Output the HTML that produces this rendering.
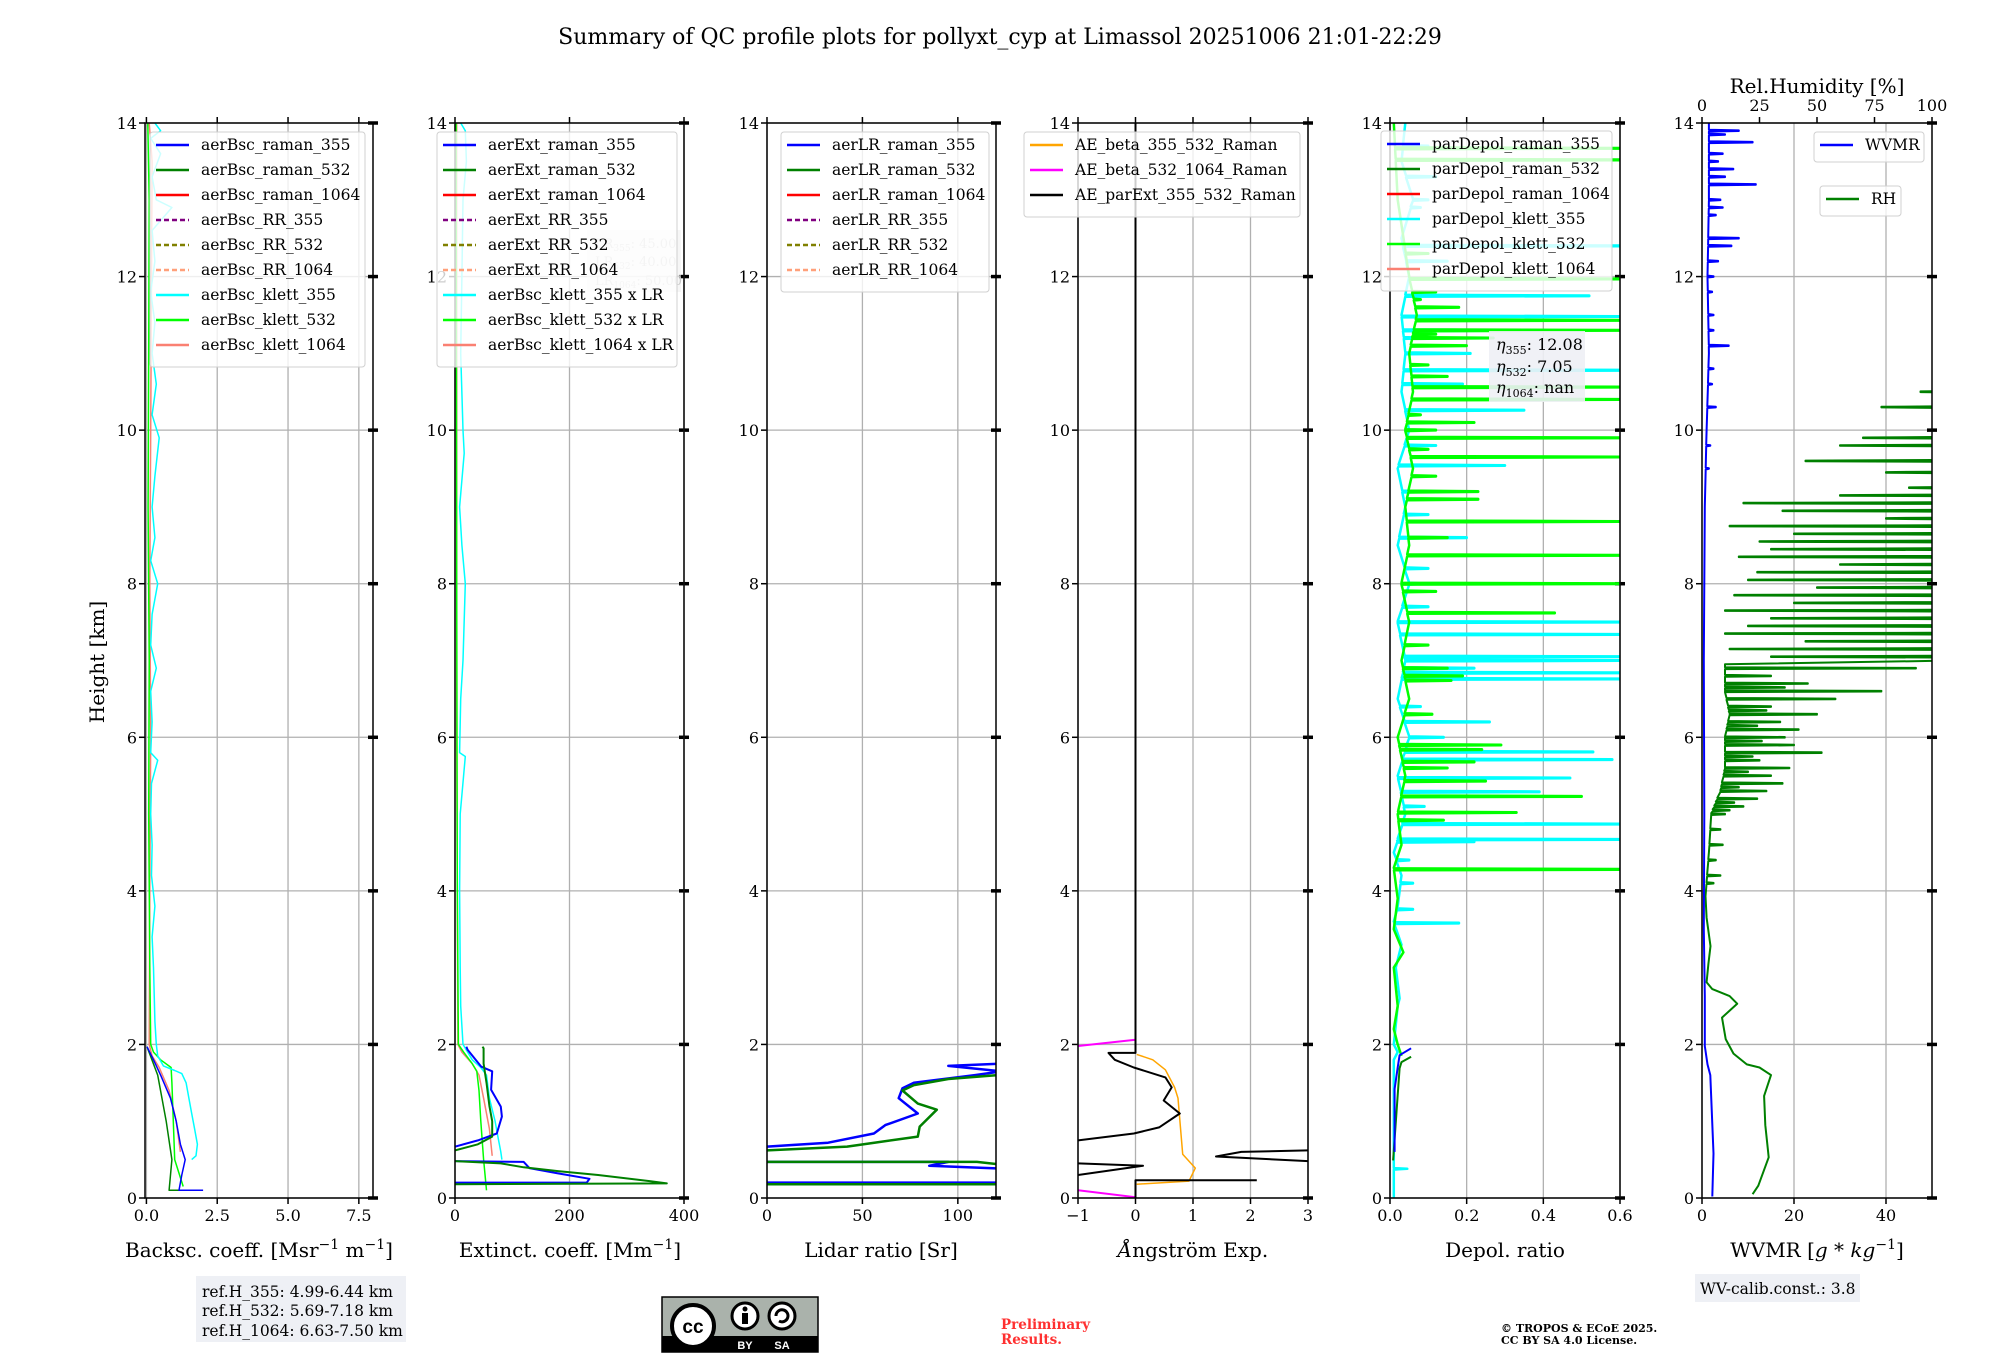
<!DOCTYPE html>
<html><head><meta charset="utf-8">
<style>
html,body{margin:0;padding:0;background:#fff;}
svg{display:block;font-family:"DejaVu Serif","Liberation Serif",serif;}
</style></head>
<body>
<svg id="fig" width="2000" height="1360" viewBox="0 0 2000 1360" xmlns="http://www.w3.org/2000/svg">
<rect x="0" y="0" width="2000" height="1360" fill="#fff"/>
<text x="1000" y="44" font-size="22" text-anchor="middle">Summary of QC profile plots for pollyxt_cyp at Limassol 20251006 21:01-22:29</text>
<text transform="translate(104,662) rotate(-90)" font-size="20" text-anchor="middle">Height [km]</text>
<g id="layer"></g>
<rect x="196" y="1276" width="210" height="66" fill="#eef0f5"/>
<text font-size="15.5" x="202">
<tspan x="202" y="1297">ref.H_355: 4.99-6.44 km</tspan>
<tspan x="202" y="1316">ref.H_532: 5.69-7.18 km</tspan>
<tspan x="202" y="1336">ref.H_1064: 6.63-7.50 km</tspan></text>
<g>
<rect x="662" y="1297" width="156" height="55" fill="#aab2ab" stroke="#000" stroke-width="1.5"/>
<rect x="662" y="1336" width="156" height="16" fill="#000"/>
<circle cx="693" cy="1326" r="21" fill="#fff" stroke="#000" stroke-width="4"/>
<text x="693" y="1333" font-size="19" font-weight="bold" text-anchor="middle" font-family="Liberation Sans, sans-serif">cc</text>
<circle cx="745" cy="1316" r="13" fill="#fff" stroke="#000" stroke-width="3"/>
<circle cx="745" cy="1309" r="2.5" fill="#000"/><rect x="742" y="1313" width="6" height="11" fill="#000"/>
<circle cx="782" cy="1316" r="13" fill="#fff" stroke="#000" stroke-width="3"/>
<path d="M776 1316 a6 6 0 1 1 3 5" fill="none" stroke="#000" stroke-width="3"/>
<text x="745" y="1349" font-size="11" fill="#fff" text-anchor="middle" font-family="Liberation Sans, sans-serif" font-weight="bold">BY</text>
<text x="782" y="1349" font-size="11" fill="#fff" text-anchor="middle" font-family="Liberation Sans, sans-serif" font-weight="bold">SA</text>
</g>
<text font-size="13.5" font-weight="bold" fill="#ff3030"><tspan x="1001" y="1329">Preliminary</tspan><tspan x="1001" y="1344">Results.</tspan></text>
<text font-size="11" font-weight="bold"><tspan x="1501" y="1332">© TROPOS &amp; ECoE 2025.</tspan><tspan x="1501" y="1344">CC BY SA 4.0 License.</tspan></text>
<rect x="1695" y="1274" width="165" height="28" fill="#eef0f5"/>
<text x="1700" y="1294" font-size="15.5">WV-calib.const.: 3.8</text>
</svg>
<script>
// ---------- data (height km, value) ----------
const bscRaman355=[[0.1,2.0],[0.1,1.15],[0.3,1.25],[0.5,1.37],[0.7,1.2],[1.0,1.05],[1.3,0.85],[1.6,0.5],[1.8,0.25],[1.97,0.02]];
const bscRaman532=[[0.1,1.3],[0.1,0.8],[0.5,0.9],[1.0,0.7],[1.6,0.4],[1.97,0.02]];
const bscKlett355=[[0.5,1.6],[0.55,1.75],[0.7,1.8],[0.9,1.7],[1.1,1.6],[1.3,1.5],[1.5,1.4],[1.62,1.25],[1.66,1.0],[1.72,0.6],[1.85,0.4],[2.0,0.35],[2.3,0.3],[2.6,0.28],[3.0,0.25],[3.4,0.2],[3.8,0.3],[4.2,0.18],[4.6,0.2],[5.0,0.15],[5.4,0.18],[5.7,0.4],[5.8,0.15],[6.2,0.2],[6.6,0.15],[6.9,0.35],[7.2,0.15],[7.6,0.2],[8.0,0.4],[8.3,0.15],[8.6,0.3],[9.0,0.2],[9.4,0.3],[9.9,0.45],[10.2,0.2],[10.6,0.35],[11.0,0.2],[11.4,0.3],[11.8,0.15],[12.2,0.3],[12.6,0.2],[12.9,0.9],[13.0,0.35],[13.3,0.2],[13.6,0.5],[13.8,0.15],[13.9,0.5],[14,0.3]];
const bscKlett532=[[0.15,1.3],[0.5,1.0],[1.0,0.95],[1.5,0.9],[1.7,0.87],[1.8,0.5],[1.9,0.25],[2.0,0.15],[3,0.12],[5,0.08],[7,0.1],[9,0.06],[11,0.08],[13,0.1],[14,0.05]];
const bscKlett1064=[[0.6,1.2],[1.0,1.05],[1.4,0.8],[1.7,0.45],[1.85,0.2],[2.0,0.1],[4,0.12],[6,0.15],[8,0.12],[10,0.15],[12,0.18],[13.5,0.2],[14,0.1]];

const extRaman355a=[[0.2,0],[0.2,230],[0.25,235],[0.32,180],[0.39,130],[0.47,120],[0.48,0]];
const extRaman355b=[[0.67,0],[0.75,40],[0.84,73],[1.06,82],[1.19,80],[1.41,63],[1.65,65],[1.71,46],[1.93,22],[1.97,20]];
const extRaman532a=[[0.18,0],[0.19,370],[0.22,340],[0.3,250],[0.35,180],[0.4,120],[0.45,80],[0.48,0]];
const extRaman532b=[[0.62,0],[0.7,40],[0.8,65],[1.0,65],[1.2,60],[1.5,55],[1.75,50],[1.95,50],[1.97,48]];
const extKlett355=[[0.5,82],[0.6,80],[0.8,75],[1.0,70],[1.3,60],[1.6,55],[1.7,45],[1.8,30],[2.0,14],[2.5,10],[3,9],[4,8],[5,9],[5.75,18],[5.8,8],[6.5,10],[7,14],[8,18],[8.5,12],[9,8],[9.7,16],[10,14],[11,10],[12,12],[13,14],[13.5,20],[13.9,18],[14,10]];
const extKlett532=[[0.1,55],[0.5,50],[1.0,45],[1.4,42],[1.65,38],[1.75,30],[1.9,15],[2.0,6],[4,4],[8,3],[14,2]];
const extKlett1064=[[0.55,65],[0.9,60],[1.3,50],[1.6,42],[1.75,30],[1.9,12],[2.0,5],[6,3],[14,3]];

const lr355a=[[0.2,0],[0.2,125]];
const lr355b=[[0.47,0],[0.47,95],[0.42,85],[0.38,125]];
const lr355c=[[0.67,0],[0.72,32],[0.84,56],[0.95,62],[1.1,79],[1.3,69],[1.43,71],[1.5,77],[1.6,109],[1.65,123],[1.72,95],[1.75,124]];
const lr532a=[[0.18,0],[0.18,125]];
const lr532b=[[0.47,0],[0.47,110],[0.43,125]];
const lr532c=[[0.62,0],[0.67,42],[0.8,79],[0.93,80],[1.15,89],[1.23,79],[1.4,71],[1.47,77],[1.55,95],[1.6,121],[1.65,125]];

const aeExt=[[14,0],[1.89,0],[1.89,-0.47],[1.8,-0.36],[1.7,-0.03],[1.57,0.52],[1.44,0.63],[1.27,0.49],[1.1,0.77],[0.92,0.41],[0.84,-0.03],[0.75,-1]];
const aeExtB=[[0.45,-1],[0.42,0.13],[0.3,-1]];
const aeExtC=[[0,0],[0.23,0],[0.23,2.11]];
const aeExtD=[[0.62,3],[0.6,1.84],[0.54,1.4],[0.48,3]];
const aeBeta355532=[[1.87,0.02],[1.8,0.3],[1.67,0.52],[1.44,0.68],[1.3,0.74],[0.57,0.82],[0.39,1.04],[0.22,0.93],[0.18,0.02]];
const aeBeta5321064a=[[2.06,0],[1.98,-1]];
const aeBeta5321064b=[[0.1,-1],[0.01,0]];

const dpRaman355=[[0.6,0.012],[1.42,0.012],[1.7,0.02],[1.86,0.025],[1.95,0.055]];
const dpRaman532=[[0.49,0.008],[1.69,0.025],[1.77,0.03],[1.84,0.055]];
const dpKlett355Base=[[0,0.01],[0.37,0.01],[0.38,0.045],[0.39,0.01],[1.8,0.01],[1.9,0.02],[2.0,0.01],[2.5,0.02],[2.6,0.025],[3.0,0.015],[3.3,0.03],[3.6,0.01],[3.8,0.02],[4.2,0.03],[4.5,0.01],[5.0,0.04],[5.5,0.02],[6.0,0.05],[6.5,0.02],[7.0,0.04],[7.5,0.02],[8,0.05],[8.5,0.02],[9,0.04],[9.5,0.02],[10,0.05],[10.5,0.03],[11,0.04],[11.5,0.03],[12,0.05],[12.5,0.03],[13,0.06],[13.5,0.03],[14,0.04]];
const dpKlett355Spikes=[[3.58,0.18],[3.76,0.06],[4.1,0.06],[4.4,0.05],[4.64,0.22],[4.67,0.6],[4.87,0.6],[5.1,0.09],[5.29,0.39],[5.47,0.47],[5.71,0.58],[5.81,0.53],[5.9,0.12],[6.0,0.14],[6.2,0.26],[6.4,0.08],[6.76,0.6],[6.84,0.6],[6.9,0.22],[7.0,0.6],[7.05,0.6],[7.34,0.6],[7.5,0.6],[7.7,0.1],[8.0,0.08],[8.2,0.1],[8.6,0.2],[8.9,0.1],[9.2,0.12],[9.54,0.3],[9.8,0.12],[10.1,0.08],[10.26,0.35],[10.6,0.19],[10.78,0.6],[11.0,0.21],[11.2,0.1],[11.3,0.3],[11.48,0.6],[11.75,0.52],[12.2,0.15],[12.4,0.6],[12.9,0.08],[13.0,0.1],[13.3,0.12],[13.7,0.1]];
const dpKlett532Base=[[1.85,0.03],[2.0,0.02],[2.2,0.01],[2.5,0.02],[3.0,0.01],[3.2,0.035],[3.5,0.01],[3.9,0.02],[4.3,0.01],[4.6,0.03],[5,0.02],[5.5,0.04],[6,0.02],[6.5,0.05],[7,0.03],[7.5,0.05],[8,0.03],[8.5,0.05],[9,0.04],[9.5,0.06],[10,0.04],[10.5,0.06],[11,0.05],[11.5,0.07],[12,0.05],[13,0.02],[14,0.01]];
const dpKlett532Spikes=[[4.28,0.6],[4.92,0.14],[5.02,0.33],[5.23,0.5],[5.43,0.25],[5.6,0.15],[5.68,0.22],[5.84,0.24],[5.9,0.29],[6.3,0.11],[6.74,0.16],[6.8,0.19],[6.9,0.15],[7.2,0.1],[7.62,0.43],[7.9,0.12],[8.0,0.6],[8.37,0.6],[8.6,0.15],[8.81,0.6],[9.1,0.23],[9.2,0.23],[9.4,0.12],[9.65,0.6],[9.75,0.1],[9.9,0.6],[10.0,0.12],[10.1,0.22],[10.2,0.08],[10.4,0.6],[10.56,0.6],[10.7,0.15],[10.85,0.1],[11.1,0.2],[11.2,0.27],[11.25,0.12],[11.3,0.6],[11.43,0.6],[11.6,0.18],[11.7,0.08],[11.8,0.12],[11.97,0.6],[12.3,0.1],[13.52,0.6],[13.67,0.6]];

const wvmrBase=[[0.02,2.25],[0.58,2.5],[1.6,1.8],[1.74,1.2],[1.98,0.6],[2.63,0.6],[3.5,0.4],[5,0.5],[7,0.4],[9,0.6],[10,1.0],[11,1.5],[12,1.2],[13,1.5],[14,1.5]];
const wvmrSpikes=[[9.5,1.5],[9.8,1.8],[10.3,3],[10.6,2.2],[10.8,2.5],[11.1,5.8],[11.3,2.5],[11.5,2.5],[11.8,2.2],[12.0,2.5],[12.2,3.5],[12.4,6.4],[12.5,8],[12.8,3],[12.9,4.5],[13.0,4],[13.2,11.7],[13.3,5],[13.4,6.8],[13.5,3.5],[13.6,4.5],[13.75,11],[13.85,5],[13.9,8]];
const rhBase=[[0.05,22],[0.16,24.5],[0.53,29],[0.95,27.5],[1.33,27],[1.6,30],[1.7,25],[1.74,19.5],[1.88,13.7],[2.07,10.3],[2.35,8.7],[2.53,15.3],[2.63,12],[2.72,4.5],[2.81,2],[3.05,2.8],[3.28,3.7],[3.65,2],[3.93,1.5],[4.5,3],[5,4],[5.3,8],[5.6,10],[6,10],[6.3,12],[6.6,10],[6.95,10],[7.0,110],[10.6,110]];
const rhSpikes=[[4.1,5],[4.2,8],[4.4,6],[4.6,9],[4.8,8],[5.0,10],[5.05,12],[5.1,18],[5.15,14],[5.2,24],[5.3,28],[5.35,16],[5.4,35],[5.5,30],[5.55,20],[5.6,38],[5.7,25],[5.75,22],[5.8,52],[5.9,40],[5.95,26],[6.0,36],[6.1,42],[6.15,24],[6.2,34],[6.3,50],[6.35,28],[6.4,30],[6.5,58],[6.6,78],[6.65,36],[6.7,46],[6.8,30],[6.9,93],
 [7.05,30],[7.15,12],[7.25,45],[7.35,10],[7.45,20],[7.55,30],[7.65,10],[7.75,40],[7.85,14],[7.95,50],[8.05,20],[8.15,24],[8.25,60],[8.35,16],[8.45,30],[8.55,25],[8.65,40],[8.75,12],[8.85,80],[8.95,35],[9.05,18],[9.15,60],[9.25,90],[9.45,80],[9.6,45],[9.8,60],[9.9,70],[10.3,78],[10.5,95]];

// ---------- layout ----------
const YT=123, YB=1198, HMAX=14;
const panels=[
 {id:'bsc',l:145,r:373,x0:-0.05,x1:8,ticks:[0,2.5,5,7.5],tl:['0.0','2.5','5.0','7.5']},
 {id:'ext',l:455,r:684,x0:0,x1:400,ticks:[0,200,400],tl:['0','200','400']},
 {id:'lr',l:767,r:996,x0:0,x1:120,ticks:[0,50,100],tl:['0','50','100']},
 {id:'ae',l:1078,r:1308,x0:-1,x1:3,ticks:[-1,0,1,2,3],tl:['\u22121','0','1','2','3']},
 {id:'dep',l:1390,r:1620,x0:0,x1:0.6,ticks:[0,0.2,0.4,0.6],tl:['0.0','0.2','0.4','0.6']},
 {id:'wv',l:1702,r:1932,x0:0,x1:50,ticks:[0,20,40],tl:['0','20','40']}
];
const NS='http://www.w3.org/2000/svg';
const layer=document.getElementById('layer');
function mk(tag,attrs,parent){const e=document.createElementNS(NS,tag);for(const k in attrs)e.setAttribute(k,attrs[k]);(parent||layer).appendChild(e);return e;}
function Y(h){return YB-(h/HMAX)*(YB-YT);}
function X(p,v){return p.l+(v-p.x0)/(p.x1-p.x0)*(p.r-p.l);}

const defs=mk('defs',{});
panels.forEach(p=>{
  const cp=mk('clipPath',{id:'clip-'+p.id},defs);
  mk('rect',{x:p.l,y:YT,width:p.r-p.l,height:YB-YT},cp);
});

function series(p,data,color,width,name,xf){
  const pts=data.map(d=>X(p,xf?xf(d[1]):d[1]).toFixed(1)+','+Y(d[0]).toFixed(1)).join(' ');
  const e=mk('polyline',{points:pts,fill:'none',stroke:color,'stroke-width':width,'clip-path':'url(#clip-'+p.id+')','stroke-linejoin':'round'});
  
  
  return e;
}
function interp(base,h){
  if(h<=base[0][0]) return base[0][1];
  for(let i=1;i<base.length;i++){if(h<=base[i][0]){const a=base[i-1],b=base[i];return a[1]+(b[1]-a[1])*(h-a[0])/(b[0]-a[0]);}}
  return base[base.length-1][1];
}
function spiky(base,spikes){
  const out=base.map(d=>[d[0],d[1]]);
  const top=base[base.length-1][0];
  spikes.forEach(s=>{
    if(s[0]>top) return;
    const b=interp(base,s[0]);
    out.push([s[0]-0.012,b],[s[0]-0.004,s[1]],[s[0]+0.004,s[1]],[s[0]+0.012,b]);
  });
  out.sort((a,b)=>a[0]-b[0]);
  return out;
}

panels.forEach(p=>{
  const g=mk('g',{});
  
  
  for(let h=0;h<=14;h+=2){
    const gl=mk('line',{x1:p.l,x2:p.r,y1:Y(h),y2:Y(h),stroke:'#b0b0b0','stroke-width':1.3},g);
    
    
    mk('line',{x1:p.l-6,x2:p.l,y1:Y(h),y2:Y(h),stroke:'#000','stroke-width':1.5},g);
    mk('line',{x1:p.r-5,x2:p.r+5,y1:Y(h),y2:Y(h),stroke:'#000','stroke-width':3.5},g);
    const t=mk('text',{x:p.l-8,y:Y(h)+6,'font-size':16,'text-anchor':'end'},g);
    t.textContent=String(h);
    
    
  }
  p.ticks.forEach((v,i)=>{
    const x=X(p,v);
    const gl=mk('line',{x1:x,x2:x,y1:YT,y2:YB,stroke:'#b0b0b0','stroke-width':1.3},g);
    
    
    mk('line',{x1:x,x2:x,y1:YB,y2:YB+6,stroke:'#000','stroke-width':1.5},g);
    if(p.id!=='wv') mk('line',{x1:x,x2:x,y1:YT-6,y2:YT,stroke:'#000','stroke-width':1.5},g);
    const t=mk('text',{x:x,y:YB+23,'font-size':16,'text-anchor':'middle'},g);
    t.textContent=p.tl[i];
    
    
  });
});

let P=panels[0];
series(P,bscKlett1064,'#fa8072',1.5,'bsc-klett-1064-line');
series(P,bscKlett532,'#00ff00',1.5,'bsc-klett-532-line');
series(P,bscKlett355,'#00ffff',1.5,'bsc-klett-355-line');
series(P,bscRaman532,'#008000',1.5,'bsc-raman-532-line');
series(P,bscRaman355,'#0000ff',1.5,'bsc-raman-355-line');
P=panels[1];
series(P,extKlett1064,'#fa8072',1.5,'ext-klett-1064-line');
series(P,extKlett532,'#00ff00',1.5,'ext-klett-532-line');
series(P,extKlett355,'#00ffff',1.5,'ext-klett-355-line');
series(P,extRaman355a,'#0000ff',2,'ext-raman-355-line');
series(P,extRaman355b,'#0000ff',2,'ext-raman-355-line-upper');
series(P,extRaman532a,'#008000',2,'ext-raman-532-line');
series(P,extRaman532b,'#008000',2,'ext-raman-532-line-upper');
P=panels[2];
[lr355a,lr355b,lr355c].forEach((d,i)=>series(P,d,'#0000ff',2.5,'lr-raman-355-line-'+i));
[lr532a,lr532b,lr532c].forEach((d,i)=>series(P,d,'#008000',2.5,'lr-raman-532-line-'+i));
P=panels[3];
series(P,aeBeta355532,'#ffa500',1.5,'ae-beta-355-532-line');
series(P,aeBeta5321064a,'#ff00ff',2,'ae-beta-532-1064-line');
series(P,aeBeta5321064b,'#ff00ff',2,'ae-beta-532-1064-line-low');
[aeExt,aeExtB,aeExtC,aeExtD].forEach((d,i)=>series(P,d,'#000',2,'ae-parext-355-532-line-'+i));
P=panels[4];
series(P,spiky(dpKlett355Base,dpKlett355Spikes),'#00ffff',2.5,'depol-klett-355-line');
series(P,spiky(dpKlett532Base,dpKlett532Spikes),'#00ff00',2.5,'depol-klett-532-line');
series(P,dpRaman532,'#008000',2,'depol-raman-532-line');
series(P,dpRaman355,'#0000ff',2,'depol-raman-355-line');
P=panels[5];
series(P,spiky(rhBase,rhSpikes),'#008000',2,'rh-line',v=>v/2);
series(P,spiky(wvmrBase,wvmrSpikes),'#0000ff',2,'wvmr-line');

panels.forEach(p=>{
  const f=mk('rect',{x:p.l,y:YT,width:p.r-p.l,height:YB-YT,fill:'none',stroke:'#000','stroke-width':1.5});
  
  
});
const rhTicks=[0,25,50,75,100];
rhTicks.forEach(v=>{
  const x=X(panels[5],v/2);
  mk('line',{x1:x,x2:x,y1:YT-6,y2:YT,stroke:'#000','stroke-width':1.5});
  const t=mk('text',{x:x,y:YT-12,'font-size':16,'text-anchor':'middle'});
  t.textContent=String(v);
  
  
});
const rht=mk('text',{x:1817,y:93,'font-size':20,'text-anchor':'middle'});
rht.textContent='Rel.Humidity [%]';



function xt(x,html,name){const t=mk('text',{x:x,y:1257,'font-size':20,'text-anchor':'middle'});t.innerHTML=html;}
xt(259,'Backsc. coeff. [Msr<tspan dy="-8" font-size="14">\u22121</tspan><tspan dy="8"> m</tspan><tspan dy="-8" font-size="14">\u22121</tspan><tspan dy="8">]</tspan>','bsc-x-axis-title');
xt(570,'Extinct. coeff. [Mm<tspan dy="-8" font-size="14">\u22121</tspan><tspan dy="8">]</tspan>','ext-x-axis-title');
xt(881,'Lidar ratio [Sr]','lr-x-axis-title');
xt(1193,'<tspan font-style="italic">\u00c5</tspan>ngstr\u00f6m Exp.','ae-x-axis-title');
xt(1505,'Depol. ratio','depol-x-axis-title');
xt(1817,'WVMR [<tspan font-style="italic">g</tspan> * <tspan font-style="italic">kg</tspan><tspan dy="-8" font-size="14">\u22121</tspan><tspan dy="8">]</tspan>','wvmr-x-axis-title');

function legend(name,x,y,w,entries,rowH){
  const g=mk('g',{});
  
  
  const h=entries.length*rowH+10;
  mk('rect',{x:x,y:y,width:w,height:h,rx:3,fill:'#fff','fill-opacity':0.8,stroke:'#d0d0d0','stroke-width':1},g);
  entries.forEach((e,i)=>{
    const cy=y+13+i*rowH;
    const ln=mk('line',{x1:x+6,x2:x+39,y1:cy,y2:cy,stroke:e[1],'stroke-width':2.5},g);
    if(e[2]) ln.setAttribute('stroke-dasharray','5,3');
    const t=mk('text',{x:x+51,y:cy+5,'font-size':15.5},g);
    t.textContent=e[0];
    
    
  });
}
legend('bsc-legend',150,132,215,[['aerBsc_raman_355','#0000ff'],['aerBsc_raman_532','#008000'],['aerBsc_raman_1064','#ff0000'],['aerBsc_RR_355','#800080',1],['aerBsc_RR_532','#808000',1],['aerBsc_RR_1064','#ffa07a',1],['aerBsc_klett_355','#00ffff'],['aerBsc_klett_532','#00ff00'],['aerBsc_klett_1064','#fa8072']],25);
const lrBox=mk('rect',{x:587,y:230,width:94,height:62,fill:'#f0f0f0','fill-opacity':0.6});


const lrT=mk('text',{'font-size':13,fill:'#c8c8c8'});


lrT.innerHTML='<tspan x="595" y="248">LR<tspan font-size="9" dy="3">355</tspan><tspan dy="-3">: 45.00</tspan></tspan><tspan x="595" y="266">LR<tspan font-size="9" dy="3">532</tspan><tspan dy="-3">: 40.00</tspan></tspan><tspan x="595" y="285">LR<tspan font-size="9" dy="3">1064</tspan><tspan dy="-3">: 50.00</tspan></tspan>';
legend('ext-legend',437,132,240,[['aerExt_raman_355','#0000ff'],['aerExt_raman_532','#008000'],['aerExt_raman_1064','#ff0000'],['aerExt_RR_355','#800080',1],['aerExt_RR_532','#808000',1],['aerExt_RR_1064','#ffa07a',1],['aerBsc_klett_355 x LR','#00ffff'],['aerBsc_klett_532 x LR','#00ff00'],['aerBsc_klett_1064 x LR','#fa8072']],25);
legend('lr-legend',781,132,208,[['aerLR_raman_355','#0000ff'],['aerLR_raman_532','#008000'],['aerLR_raman_1064','#ff0000'],['aerLR_RR_355','#800080',1],['aerLR_RR_532','#808000',1],['aerLR_RR_1064','#ffa07a',1]],25);
legend('ae-legend',1024,132,276,[['AE_beta_355_532_Raman','#ffa500'],['AE_beta_532_1064_Raman','#ff00ff'],['AE_parExt_355_532_Raman','#000']],25);
legend('depol-legend',1381,131,231,[['parDepol_raman_355','#0000ff'],['parDepol_raman_532','#008000'],['parDepol_raman_1064','#ff0000'],['parDepol_klett_355','#00ffff'],['parDepol_klett_532','#00ff00'],['parDepol_klett_1064','#fa8072']],25);
legend('wvmr-legend',1814,132,110,[['WVMR','#0000ff']],20);
legend('rh-legend',1820,186,81,[['RH','#008000']],20);

const eb=mk('rect',{x:1489,y:331,width:96,height:71,fill:'#eef0f5','fill-opacity':0.9});


const et=mk('text',{'font-size':16});


et.innerHTML='<tspan x="1496" y="350"><tspan font-style="italic">η</tspan><tspan font-size="11" dy="4">355</tspan><tspan dy="-4">: 12.08</tspan></tspan><tspan x="1496" y="372"><tspan font-style="italic">η</tspan><tspan font-size="11" dy="4">532</tspan><tspan dy="-4">: 7.05</tspan></tspan><tspan x="1496" y="393"><tspan font-style="italic">η</tspan><tspan font-size="11" dy="4">1064</tspan><tspan dy="-4">: nan</tspan></tspan>';
</script>
</body></html>
